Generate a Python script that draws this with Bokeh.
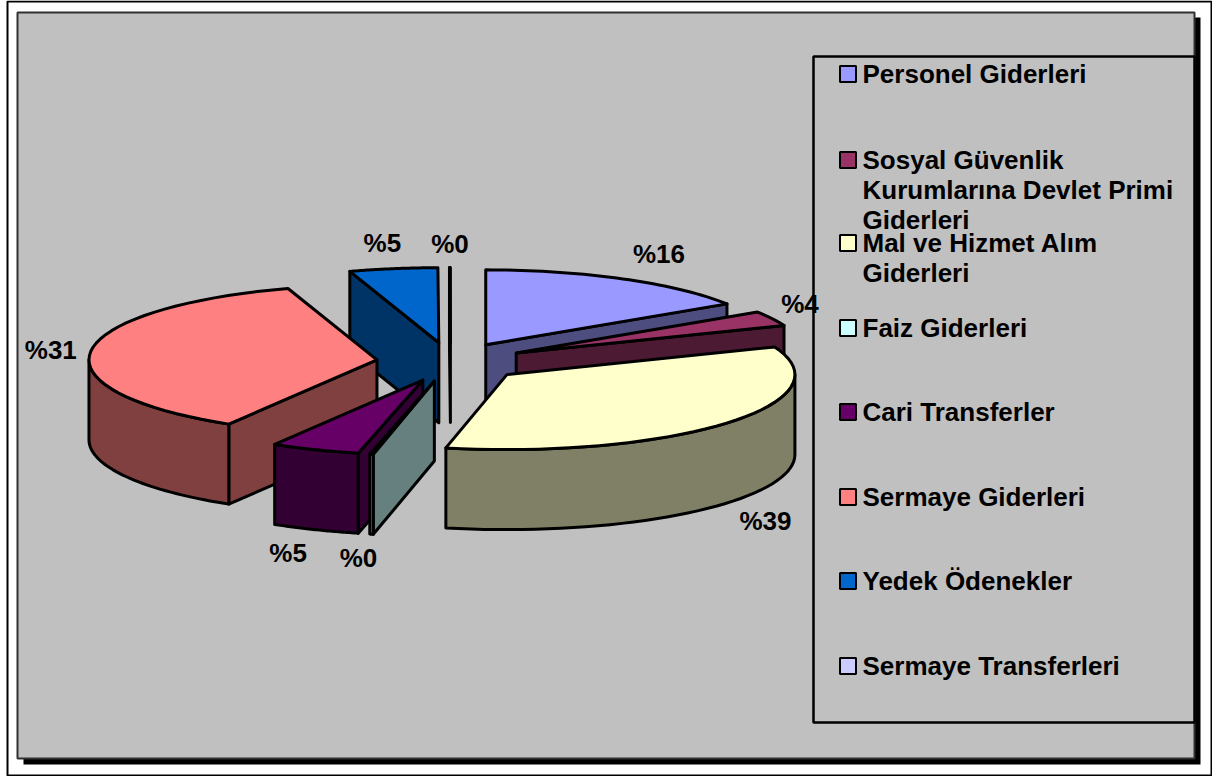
import math
from bokeh.plotting import figure
from bokeh.models import Range1d
from bokeh.core.properties import value
from bokeh.embed import file_html
from bokeh.resources import INLINE

categories = ["Personel Giderleri", "Sosyal Güvenlik\nKurumlarına Devlet Primi\nGiderleri",
              "Mal ve Hizmet Alım\nGiderleri", "Faiz Giderleri", "Cari Transferler",
              "Sermaye Giderleri", "Yedek Ödenekler", "Sermaye Transferleri"]
percent_labels = ["%16", "%4", "%39", "%0", "%5", "%31", "%5", "%0"]
# slice sizes as drawn (percent of the full circle)
shares = [15.8, 3.2, 34.4, 0.2, 5.0, 36.4, 4.95, 0.05]
colors = ["#9999FF", "#993366", "#FFFFCC", "#CCFFFF", "#660066", "#FF8080", "#0066CC", "#CCCCFF"]
side_colors = ["#4D4D80", "#4D1A33", "#808066", "#668080", "#330033", "#804040", "#003366", "#666680"]
legend_row_y = [73, 159, 242, 327, 411, 496, 580, 665]
label_nudge = [(36, -25), (28, -15), (39, 98), (-13, 104), (-27, 103), (-40, -1), (-11, -26), (0, -24)]

FONT = value("Liberation Sans")
W, H = 1212, 776
CX, CY, RX, RY, DEPTH, EXPL, EXPL_Y = 450, 361.5, 288, 75, 80, 74, 19.5

p = figure(width=W, height=H, x_range=Range1d(0, W), y_range=Range1d(H, 0),
           output_backend="svg", toolbar_location=None, min_border=0,
           outline_line_color=None, background_fill_color="white", border_fill_color="white")
p.axis.visible = False
p.grid.visible = False

# page frame, chart area with drop shadow
p.quad(left=[7], right=[1211], top=[1], bottom=[775], fill_color="white", line_color="black", line_width=2)
p.quad(left=[23], right=[1200], top=[17], bottom=[764], fill_color="black", line_color=None)
p.quad(left=[17], right=[1194], top=[12], bottom=[758], fill_color="#C0C0C0", line_color="#303030", line_width=2)
# legend box
p.quad(left=[813], right=[1194], top=[56], bottom=[722], fill_color="#C0C0C0", line_color="black", line_width=2.5)


def arc(ax, ay, a, b, dy=0.0, n=40):
    pts = []
    for i in range(n + 1):
        t = math.radians(a + (b - a) * i / n)
        pts.append((ax + RX * math.sin(t), ay - RY * math.cos(t) + dy))
    return pts


def draw(pts, color):
    p.patch([q[0] for q in pts], [q[1] for q in pts], fill_color=color, line_color="black",
            line_width=3, line_join="round")


bounds, acc = [], 0.0
for s in shares:
    bounds.append((acc * 3.6, (acc + s) * 3.6))
    acc += s

slices = []
for i, (a, b) in enumerate(bounds):
    m = math.radians((a + b) / 2)
    slices.append((i, a, b, CX + EXPL * math.sin(m), CY - EXPL_Y * math.cos(m), -math.cos(m)))

for i, a, b, ax, ay, _ in sorted(slices, key=lambda s: s[5]):
    # radial walls
    if a >= 180:
        q = arc(ax, ay, a, a, n=1)[0]
        draw([(ax, ay), q, (q[0], q[1] + DEPTH), (ax, ay + DEPTH)], side_colors[i])
    if 0 < b < 180:
        q = arc(ax, ay, b, b, n=1)[0]
        draw([(ax, ay), q, (q[0], q[1] + DEPTH), (ax, ay + DEPTH)], side_colors[i])
    # outer wall
    lo, hi = max(a, 90), min(b, 270)
    if lo < hi:
        draw(arc(ax, ay, lo, hi) + arc(ax, ay, hi, lo, dy=DEPTH), side_colors[i])
    # top face
    draw([(ax, ay)] + arc(ax, ay, a, b), colors[i])

# percent labels
for (i, a, b, ax, ay, _), (nx, ny), txt in zip(slices, label_nudge, percent_labels):
    m = math.radians((a + b) / 2)
    p.text([ax + RX * math.sin(m) + nx], [ay - RY * math.cos(m) + ny], text=[txt], text_font=FONT,
           text_font_size="26px", text_font_style="bold", text_color="black",
           text_align="center", text_baseline="middle")

# legend
for name, y, c in zip(categories, legend_row_y, colors):
    p.rect([847.5], [y + 0.5], width=16, height=16, fill_color=c, line_color="black", line_width=2)
    for k, line in enumerate(name.split("\n")):
        p.text([862], [y + 30 * k], text=[line], text_font=FONT, text_font_size="26px",
               text_font_style="bold", text_color="black", text_align="left", text_baseline="middle")

open("out.html", "w").write(file_html(p, INLINE))
